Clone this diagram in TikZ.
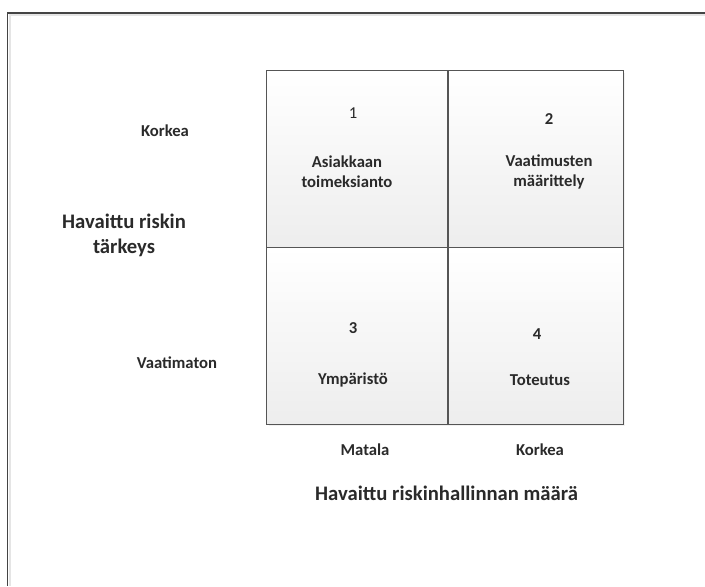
\documentclass[tikz,border=0pt]{standalone}
\usepackage{fontspec}
\setmainfont{Carlito}
\usetikzlibrary{shadows}
\definecolor{edge}{HTML}{555555}
\definecolor{frame}{HTML}{444444}
\definecolor{txt}{HTML}{2A2A2A}
\tikzset{
  cell/.style={draw=edge, semithick, top color=white, bottom color=black!7,
    minimum width=#1*0.75pt, minimum height=132.75pt, inner sep=0pt,
    drop shadow={shadow xshift=1.5pt, shadow yshift=-1.5pt, fill=black!10}},
  lbl/.style={font=\fontsize{12.5}{15}\selectfont\bfseries, text=txt, align=center, inner sep=0pt},
  num/.style={lbl},
  ttl/.style={font=\fontsize{15.5}{18.75}\selectfont\bfseries, text=txt, align=center, inner sep=0pt},
}
\begin{document}
\begin{tikzpicture}[x=0.75pt, y=-0.75pt]
\useasboundingbox[fill=white] (0,0) rectangle (705,586);

% ---- frame ----
\coordinate (fr) at (705,13);
\coordinate (fc) at (7.5,13);
\coordinate (fb) at (7.5,586);
\draw[black!10, line width=1.5pt] ([yshift=-1.5pt]fr) -- ([xshift=1.5pt,yshift=-1.5pt]fc) -- ([xshift=1.5pt]fb);
\draw[frame, line width=1pt] (fr) -- (fc) -- (fb);

% ---- matrix cells ----
\node[cell=181] (c1) at (357.2,159.0) {};
\node[cell=175] (c2) at (535.5,159.0) {};
\node[cell=181] (c3) at (357.2,335.7) {};
\node[cell=175] (c4) at (535.5,335.7) {};

% ---- cell texts ----
\node[num, font=\fontsize{12.5}{15}\selectfont] (n1) at (353,113) {1};
\node[num] (n2) at (549,119) {2};
\node[num] (n3) at (353,328) {3};
\node[num] (n4) at (537,334) {4};
\node[lbl] (t1) at (347,172) {Asiakkaan\\toimeksianto};
\node[lbl] (t2) at (549,172) {Vaatimusten\\määrittely};
\node[lbl] (t3) at (353,380) {Ympäristö};
\node[lbl] (t4) at (540,380) {Toteutus};

% ---- axis labels ----
\node[lbl] (yhi) at (165,131) {Korkea};
\node[lbl] (ylo) at (177,363) {Vaatimaton};
\node[ttl] (ytl) at (124,235.5) {Havaittu riskin\\tärkeys};
\node[lbl] (xlo) at (365,450) {Matala};
\node[lbl] (xhi) at (540,450) {Korkea};
\node[ttl] (xtl) at (446.5,493) {Havaittu riskinhallinnan määrä};
\end{tikzpicture}
\end{document}
